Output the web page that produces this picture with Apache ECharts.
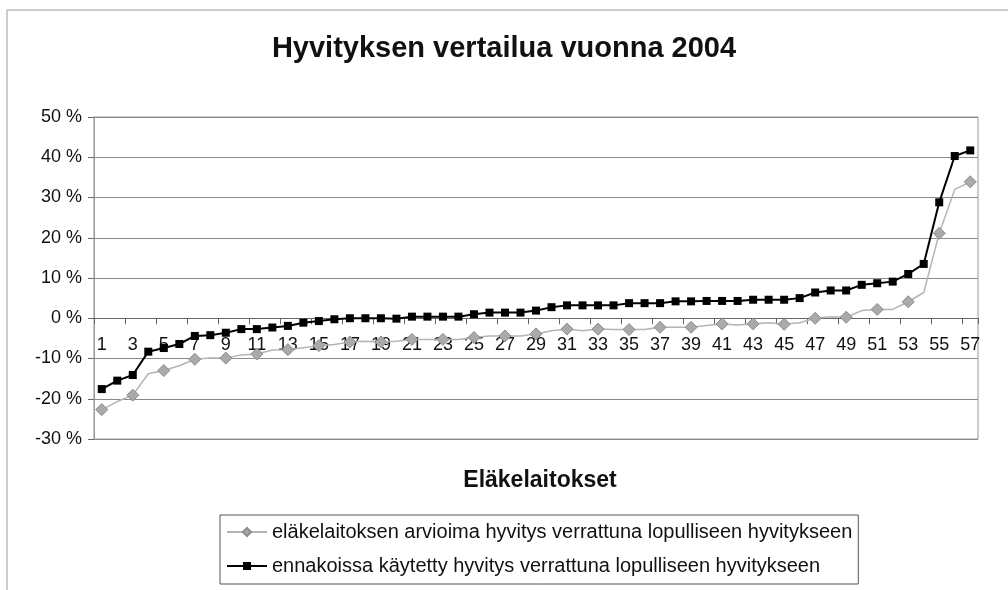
<!DOCTYPE html>
<html>
<head>
<meta charset="utf-8">
<title>Hyvityksen vertailua vuonna 2004</title>
<script src="https://cdn.jsdelivr.net/npm/echarts@6/dist/echarts.min.js"></script>
<style>
  html, body { margin: 0; padding: 0; background: #fff; }
  #chart { width: 1008px; height: 590px; }
</style>
</head>
<body>
<div id="chart"></div>
<script>
// eläkelaitokset 1..57
const categories = Array.from({ length: 57 }, (_, i) => String(i + 1))

// eläkelaitoksen arvioima hyvitys verrattuna lopulliseen hyvitykseen (%)
const arvioima = [
  -22.7, -20.7, -19.1, -13.8, -13.0, -11.8, -10.2, -9.9, -9.9, -9.1,
  -8.9, -7.9, -7.8, -7.3, -6.8, -6.5, -5.9, -5.7, -5.9, -5.7,
  -5.25, -5.25, -5.25, -5.25, -4.8, -4.4, -4.4, -4.4, -3.9, -3.1,
  -2.7, -3.1, -2.7, -2.8, -2.8, -2.8, -2.25, -2.25, -2.25, -1.8,
  -1.4, -1.7, -1.4, -1.1, -1.5, -1.1, 0, 0.4, 0.25, 1.9,
  2.2, 2.2, 4.1, 6.4, 21.1, 32.0, 33.9
]

// ennakoissa käytetty hyvitys verrattuna lopulliseen hyvitykseen (%)
const ennakoissa = [
  -17.6, -15.5, -14.1, -8.3, -7.4, -6.4, -4.4, -4.2, -3.6, -2.7,
  -2.7, -2.3, -1.9, -1.1, -0.7, -0.25, 0, 0, 0, -0.1,
  0.4, 0.4, 0.4, 0.4, 1.0, 1.4, 1.4, 1.4, 1.9, 2.75,
  3.2, 3.2, 3.2, 3.2, 3.75, 3.75, 3.75, 4.2, 4.2, 4.3,
  4.3, 4.3, 4.6, 4.6, 4.6, 5.0, 6.4, 6.9, 6.9, 8.3,
  8.7, 9.1, 11.0, 13.5, 28.8, 40.3, 41.7
]

const seriesNames = [
  'eläkelaitoksen arvioima hyvitys verrattuna lopulliseen hyvitykseen',
  'ennakoissa käytetty hyvitys verrattuna lopulliseen hyvitykseen'
]

const yMin = -30
const yMax = 50

const font = 'Arial, "Liberation Sans", sans-serif'

// grid
const W = 1008, H = 590
const gridLeft = 94, gridRight = 30, gridTop = 117, gridBottom = 151
// x-akseli piirretään nollatasolle (ECharts v6 jättää muuten tekstit alareunaan)
const gridH = H - gridTop - gridBottom
const zeroOffset = -gridH * (0 - yMin) / (yMax - yMin)

const chart = echarts.init(document.getElementById('chart'))

chart.setOption({
  backgroundColor: '#fff',
  animation: false,
  textStyle: { fontFamily: font },
  title: [
    {
      text: 'Hyvityksen vertailua vuonna 2004',
      left: 'center',
      top: 29,
      textStyle: { fontSize: 29, fontWeight: 'bold', color: '#111', fontFamily: font }
    },
    {
      // x-akselin nimi
      text: 'Eläkelaitokset',
      left: 535,
      textAlign: 'center',
      top: 464,
      textStyle: { fontSize: 23, fontWeight: 'bold', color: '#111', fontFamily: font }
    }
  ],
  graphic: [
    {
      // kaavion ulkokehys
      type: 'rect',
      shape: { x: 7, y: 10, width: 1020, height: 620 },
      style: { fill: null, stroke: '#999', lineWidth: 1 },
      silent: true
    }
  ],
  legend: {
    orient: 'vertical',
    left: 220,
    top: 515,
    padding: [7, 6, 8, 6],
    itemGap: 14,
    itemWidth: 40,
    itemHeight: 10,
    borderColor: '#555',
    borderWidth: 1,
    data: seriesNames,
    textStyle: { fontSize: 20, color: '#111', fontFamily: font }
  },
  grid: {
    left: gridLeft,
    right: gridRight,
    top: gridTop,
    bottom: gridBottom,
    show: true,
    borderColor: '#999',
    borderWidth: 1,
    outerBoundsMode: 'none'
  },
  xAxis: {
    type: 'category',
    data: categories,
    boundaryGap: true,
    position: 'bottom',
    offset: zeroOffset,
    axisLine: { onZero: false, lineStyle: { color: '#666', width: 1 } },
    axisTick: { show: true, length: 6, lineStyle: { color: '#666' } },
    axisLabel: { interval: 1, margin: 18, fontSize: 18, color: '#111', fontFamily: font },
    splitLine: { show: false }
  },
  yAxis: {
    type: 'value',
    min: yMin,
    max: yMax,
    interval: 10,
    axisLine: { show: true, lineStyle: { color: '#999' } },
    axisTick: { show: true, length: 6, lineStyle: { color: '#666' } },
    axisLabel: { formatter: '{value} %', margin: 12, fontSize: 18, color: '#111', fontFamily: font },
    splitLine: { show: true, lineStyle: { color: '#8a8a8a', width: 1 } }
  },
  series: [
    {
      name: seriesNames[0],
      type: 'line',
      data: arvioima,
      symbol: 'diamond',
      symbolSize: 12,
      itemStyle: { color: '#aaa', borderColor: '#8c8c8c', borderWidth: 1 },
      lineStyle: { color: '#b4b4b4', width: 1.5 },
      z: 2
    },
    {
      name: seriesNames[1],
      type: 'line',
      data: ennakoissa,
      symbol: 'rect',
      symbolSize: 8,
      itemStyle: { color: '#000' },
      lineStyle: { color: '#000', width: 2 },
      z: 3
    }
  ]
})
</script>
</body>
</html>
